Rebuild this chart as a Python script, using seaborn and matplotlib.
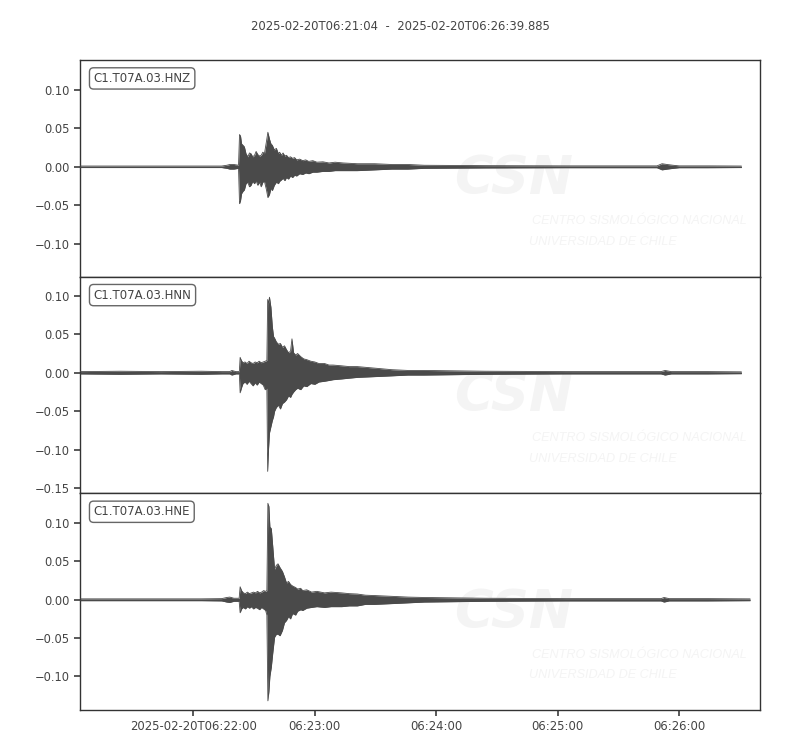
import numpy as np
import pandas as pd
import matplotlib
matplotlib.use("Agg")
import matplotlib.pyplot as plt
import seaborn as sns

# --------------------------------------------------
# Data (envelopes, seconds after 06:21:04)
# --------------------------------------------------
start_time = "2025-02-20 06:21:04"
end_seconds = 335.885
title_text = "2025-02-20T06:21:04  -  2025-02-20T06:26:39.885"
channels = ["C1.T07A.03.HNZ", "C1.T07A.03.HNN", "C1.T07A.03.HNE"]

hnz_t = [0, 70, 72.5, 74, 76, 78.3, 78.8, 79.3, 79.8, 80.5, 81.2, 82, 82.9, 83.7, 84.5, 85.3,
         86.2, 87, 87.8, 88.7, 89.5, 90.3, 91.1, 92.1, 92.8, 93.6, 94.3, 95, 96, 97, 98, 98.6,
         99.5, 100.3, 101.2, 102, 103, 104, 105, 106, 107, 108.5, 110, 111.5, 113, 115, 117,
         120, 123, 126, 130, 137, 145.6, 154, 162, 170, 200, 240, 285, 287.5, 290, 293, 296,
         310, 326.7]
hnz_up = [0.001, 0.001, 0.002, 0.003, 0.003, 0.002, 0.042, 0.040, 0.030, 0.028, 0.026, 0.017,
          0.013, 0.018, 0.017, 0.013, 0.015, 0.020, 0.016, 0.014, 0.015, 0.019, 0.017, 0.033,
          0.045, 0.036, 0.030, 0.028, 0.022, 0.024, 0.017, 0.019, 0.015, 0.018, 0.014, 0.015,
          0.012, 0.013, 0.011, 0.012, 0.009, 0.010, 0.008, 0.009, 0.007, 0.008, 0.006, 0.0065,
          0.005, 0.006, 0.005, 0.004, 0.004, 0.003, 0.003, 0.002, 0.0015, 0.0012, 0.0012,
          0.004, 0.003, 0.002, 0.0012, 0.0012, 0.001]
hnz_lo = [-0.001, -0.001, -0.002, -0.003, -0.003, -0.002, -0.048, -0.044, -0.035, -0.032,
          -0.030, -0.022, -0.020, -0.026, -0.024, -0.019, -0.022, -0.018, -0.024, -0.020,
          -0.026, -0.020, -0.019, -0.030, -0.040, -0.036, -0.028, -0.031, -0.024, -0.020,
          -0.022, -0.019, -0.017, -0.015, -0.018, -0.014, -0.016, -0.012, -0.014, -0.011,
          -0.012, -0.009, -0.010, -0.008, -0.009, -0.007, -0.007, -0.006, -0.006, -0.005,
          -0.005, -0.005, -0.004, -0.003, -0.003, -0.002, -0.0015, -0.0012, -0.0012, -0.004,
          -0.003, -0.002, -0.0012, -0.0012, -0.001]

hnn_t = [0, 20, 40, 60, 70, 74, 75, 77, 78.7, 79.1, 79.7, 80.5, 81.5, 82.5, 83.5, 84.5, 85.5,
         86.5, 87.5, 88.5, 89.5, 90.5, 91.5, 92.3, 92.7, 93.1, 93.6, 94.3, 95, 95.6, 96.1, 97,
         98, 99, 100, 101, 102, 103, 104, 104.7, 105.5, 106.5, 107.5, 109, 110.5, 112, 114,
         116, 118, 120.8, 123, 125, 129.3, 133, 137, 145.6, 154, 162, 170, 200, 240, 287, 289,
         292, 310, 326.7]
hnn_up = [0.0015, 0.002, 0.0015, 0.002, 0.0015, 0.0015, 0.003, 0.0015, 0.0015, 0.020, 0.016,
          0.013, 0.014, 0.012, 0.015, 0.013, 0.012, 0.014, 0.013, 0.015, 0.013, 0.014, 0.015,
          0.016, 0.095, 0.090, 0.098, 0.085, 0.060, 0.047, 0.045, 0.040, 0.037, 0.038, 0.033,
          0.035, 0.030, 0.026, 0.028, 0.044, 0.026, 0.023, 0.025, 0.021, 0.018, 0.017, 0.015,
          0.014, 0.012, 0.012, 0.010, 0.010, 0.009, 0.008, 0.008, 0.006, 0.004, 0.003, 0.003,
          0.002, 0.0015, 0.0015, 0.003, 0.0015, 0.0015, 0.0012]
hnn_lo = [-0.0015, -0.002, -0.0015, -0.002, -0.0015, -0.0015, -0.003, -0.0015, -0.0015, -0.026,
          -0.020, -0.014, -0.012, -0.015, -0.011, -0.014, -0.017, -0.013, -0.016, -0.012,
          -0.014, -0.016, -0.022, -0.020, -0.128, -0.100, -0.078, -0.070, -0.062, -0.057,
          -0.050, -0.045, -0.042, -0.047, -0.040, -0.038, -0.035, -0.030, -0.032, -0.028,
          -0.025, -0.022, -0.020, -0.022, -0.017, -0.018, -0.014, -0.015, -0.012, -0.011,
          -0.010, -0.009, -0.008, -0.007, -0.006, -0.005, -0.004, -0.003, -0.003, -0.002,
          -0.0015, -0.0015, -0.003, -0.0015, -0.0015, -0.0012]

hne_t = [0, 30, 60, 70, 72.5, 74, 76, 78.6, 79.1, 79.8, 80.7, 81.7, 82.7, 83.7, 84.7, 85.7,
         86.7, 87.7, 88.7, 89.7, 90.7, 91.7, 92.3, 92.8, 93.3, 93.8, 94.5, 95.2, 96.1, 97, 97.8,
         98.8, 100, 101, 102, 103, 104, 105, 106.5, 107.5, 109, 110, 112, 114.4, 117, 120.8,
         124, 129.3, 133, 137, 141, 145.6, 154, 162, 170, 200, 240, 287, 288.5, 291, 310, 331]
hne_up = [0.0012, 0.0012, 0.0012, 0.0015, 0.003, 0.0035, 0.002, 0.002, 0.017, 0.012, 0.009,
          0.008, 0.010, 0.008, 0.009, 0.010, 0.009, 0.011, 0.009, 0.010, 0.012, 0.011, 0.012,
          0.126, 0.122, 0.095, 0.093, 0.070, 0.040, 0.045, 0.047, 0.042, 0.037, 0.030, 0.022,
          0.024, 0.020, 0.018, 0.016, 0.014, 0.015, 0.012, 0.013, 0.010, 0.011, 0.009, 0.010,
          0.009, 0.008, 0.0075, 0.006, 0.0055, 0.0045, 0.0035, 0.003, 0.002, 0.0015, 0.0015,
          0.003, 0.0015, 0.0015, 0.0012]
hne_lo = [-0.0012, -0.0012, -0.0012, -0.0015, -0.003, -0.0035, -0.002, -0.002, -0.017, -0.012,
          -0.010, -0.012, -0.009, -0.011, -0.009, -0.012, -0.010, -0.011, -0.013, -0.010,
          -0.012, -0.014, -0.020, -0.132, -0.120, -0.100, -0.088, -0.070, -0.049, -0.045,
          -0.045, -0.047, -0.040, -0.030, -0.027, -0.022, -0.025, -0.018, -0.020, -0.015,
          -0.013, -0.014, -0.011, -0.010, -0.009, -0.010, -0.009, -0.009, -0.008, -0.008,
          -0.006, -0.006, -0.005, -0.004, -0.003, -0.002, -0.0015, -0.0015, -0.003, -0.0015,
          -0.0015, -0.0012]

y_limits = [(-0.143, 0.139), (-0.1565, 0.1247), (-0.144, 0.139)]
y_ticks = [[-0.10, -0.05, 0.0, 0.05, 0.10],
           [-0.15, -0.10, -0.05, 0.0, 0.05, 0.10],
           [-0.10, -0.05, 0.0, 0.05, 0.10]]
x_tick_times = ["2025-02-20 06:22:00", "2025-02-20 06:23:00", "2025-02-20 06:24:00",
                "2025-02-20 06:25:00", "2025-02-20 06:26:00"]
x_tick_labels = ["2025-02-20T06:22:00", "06:23:00", "06:24:00", "06:25:00", "06:26:00"]

traces = [(hnz_t, hnz_up, hnz_lo), (hnn_t, hnn_up, hnn_lo), (hne_t, hne_up, hne_lo)]

# --------------------------------------------------
# Style
# --------------------------------------------------
sns.set_theme(style="ticks")
text_col = "#444444"
plt.rcParams.update({
    "font.family": ["DejaVu Sans"],
    "text.color": text_col,
    "axes.labelcolor": text_col,
    "xtick.color": text_col,
    "ytick.color": text_col,
    "axes.edgecolor": "#333333",
    "axes.linewidth": 1.0,
    "xtick.labelsize": 8.4,
    "ytick.labelsize": 8.3,
    "xtick.major.size": 4,
    "ytick.major.size": 4,
})
wave_col = "#4a4a4a"
mark_col = "#f4f4f4"

base = pd.Timestamp(start_time)
fig, axes = plt.subplots(3, 1, figsize=(8, 7.5), dpi=100, sharex=True)
fig.subplots_adjust(left=0.1, right=0.95, top=0.92, bottom=0.0533, hspace=0)

for i, (ax, (t, up, lo)) in enumerate(zip(axes, traces)):
    times = base + pd.to_timedelta(np.array(t), unit="s")
    df = pd.DataFrame({"time": times, "upper": up, "lower": lo})

    # faint CSN watermark
    ax.text(0.55, 0.45, "CSN", transform=ax.transAxes, fontsize=38, fontweight="bold",
            fontstyle="italic", color=mark_col, ha="left", va="center", zorder=0,
            clip_on=True)
    ax.text(0.665, 0.255, "CENTRO SISMOLÓGICO NACIONAL", transform=ax.transAxes,
            fontsize=9.1, fontstyle="italic", family=["Liberation Sans"], color=mark_col,
            ha="left", va="center", zorder=0, clip_on=True)
    ax.text(0.66, 0.16, "UNIVERSIDAD DE CHILE", transform=ax.transAxes,
            fontsize=9.1, fontstyle="italic", family=["Liberation Sans"], color=mark_col,
            ha="left", va="center", zorder=0, clip_on=True)

    ax.fill_between(df["time"], df["lower"], df["upper"], color=wave_col, lw=0, zorder=2)
    sns.lineplot(data=df, x="time", y="upper", ax=ax, color=wave_col, lw=0.6, zorder=3)
    sns.lineplot(data=df, x="time", y="lower", ax=ax, color=wave_col, lw=0.6, zorder=3)

    ax.set_ylim(*y_limits[i])
    ax.set_yticks(y_ticks[i])
    ax.set_yticklabels([f"{v:.2f}".replace("-", "\u2212") for v in y_ticks[i]])
    ax.set_xlabel("")
    ax.set_ylabel("")
    ax.text(0.02, 0.945, channels[i], transform=ax.transAxes, fontsize=8.5, ha="left",
            va="top", color=text_col,
            bbox=dict(boxstyle="round,pad=0.35", facecolor="white", edgecolor="#666666", lw=1))
    if i < 2:
        ax.tick_params(axis="x", bottom=False, labelbottom=False)

axes[-1].set_xlim(base, base + pd.Timedelta(seconds=end_seconds))
axes[-1].set_xticks(pd.to_datetime(x_tick_times))
axes[-1].set_xticklabels(x_tick_labels)

fig.suptitle(title_text, y=0.973, fontsize=8.4, color=text_col)

plt.savefig("out.png", dpi=100)
plt.close()
